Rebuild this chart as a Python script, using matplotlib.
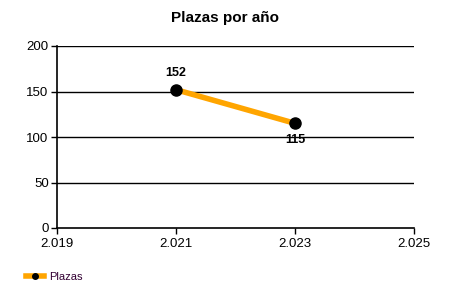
import matplotlib
matplotlib.use("Agg")
import matplotlib.pyplot as plt
from matplotlib.ticker import FuncFormatter

years = [2021, 2023]
plazas = [152, 115]
x_ticks = [2019, 2021, 2023, 2025]
y_ticks = [0, 50, 100, 150, 200]

plt.rcParams['font.family'] = ['Liberation Sans', 'DejaVu Sans']

fig = plt.figure(figsize=(4.5, 3), dpi=100)
ax = fig.add_axes([57/450, 1-228/300, (414-57)/450, (228-46)/300])

for yv in y_ticks[1:]:
    ax.axhline(yv, color='black', lw=1, zorder=1)

line, = ax.plot(years, plazas, color='#FFA500', lw=4, marker='o', ms=8,
                markerfacecolor='black', markeredgecolor='black', zorder=3, label='Plazas')

offsets = [12, -12]
for xv, yv, off in zip(years, plazas, offsets):
    ax.annotate(str(yv), (xv, yv), xytext=(0, off), textcoords='offset points',
                ha='center', va='center', fontsize=9, fontweight='bold', zorder=4)

ax.set_xlim(2019, 2025)
ax.set_ylim(0, 200)
ax.set_xticks(x_ticks)
ax.set_yticks(y_ticks)
ax.xaxis.set_major_formatter(FuncFormatter(lambda v, p: f"{int(v):,}".replace(",", ".")))
ax.tick_params(axis='both', direction='out', length=4, width=1, labelsize=9.5, colors='black', pad=2)
ax.tick_params(axis='x', pad=3)
for s in ['top', 'right']:
    ax.spines[s].set_visible(False)
for s in ['left', 'bottom']:
    ax.spines[s].set_linewidth(1.2)

fig.text(0.5, 1-18/300, 'Plazas por año', ha='center', va='center', fontsize=11, fontweight='bold')

leg = fig.legend(handles=[line], labels=['Plazas'], loc='center left',
                 bbox_to_anchor=(0.035, 1-277/300), frameon=False, fontsize=8,
                 handlelength=1.6, handletextpad=0.5, markerscale=0.5)
for t in leg.get_texts():
    t.set_color('#330033')

fig.savefig('out.png', dpi=100)
